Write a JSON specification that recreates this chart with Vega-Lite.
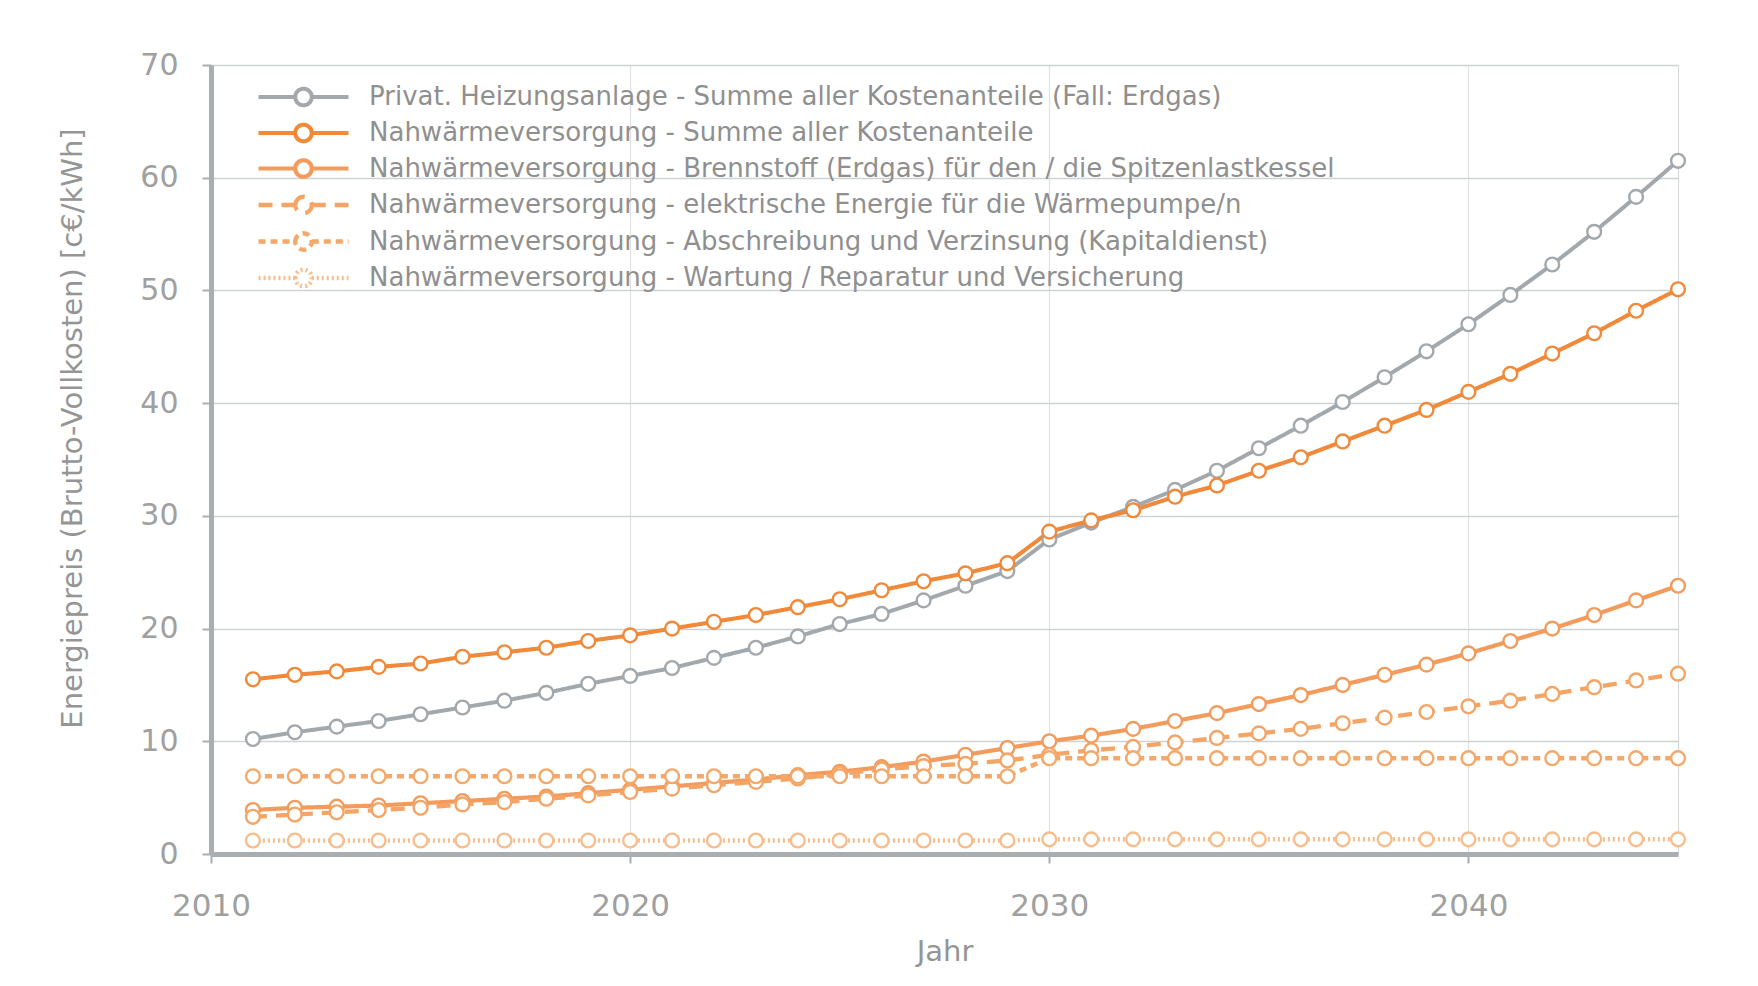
{
  "$schema": "https://vega.github.io/schema/vega-lite/v6.json",
  "width": 1467,
  "height": 789,
  "autosize": {"type": "none"},
  "padding": {"left": 211, "top": 65, "right": 80, "bottom": 132},
  "background": "white",
  "config": {
    "font": "DejaVu Sans",
    "view": {"stroke": "#d4d6d8", "strokeWidth": 1},
    "axis": {"labelColor": "#a0a0a0", "titleColor": "#959595", "labelFont": "DejaVu Sans", "titleFont": "DejaVu Sans", "titleFontWeight": "normal"},
    "legend": {"padding": 0}
  },
  "data": {"values": [
    {"Jahr": 2011, "s1": 10.2, "s2": 15.5, "s3": 3.9, "s4": 3.3, "s5": 6.9, "s6": 1.2},
    {"Jahr": 2012, "s1": 10.8, "s2": 15.9, "s3": 4.1, "s4": 3.5, "s5": 6.9, "s6": 1.2},
    {"Jahr": 2013, "s1": 11.3, "s2": 16.2, "s3": 4.2, "s4": 3.7, "s5": 6.9, "s6": 1.2},
    {"Jahr": 2014, "s1": 11.8, "s2": 16.6, "s3": 4.3, "s4": 3.9, "s5": 6.9, "s6": 1.2},
    {"Jahr": 2015, "s1": 12.4, "s2": 16.9, "s3": 4.5, "s4": 4.1, "s5": 6.9, "s6": 1.2},
    {"Jahr": 2016, "s1": 13.0, "s2": 17.5, "s3": 4.7, "s4": 4.4, "s5": 6.9, "s6": 1.2},
    {"Jahr": 2017, "s1": 13.6, "s2": 17.9, "s3": 4.9, "s4": 4.6, "s5": 6.9, "s6": 1.2},
    {"Jahr": 2018, "s1": 14.3, "s2": 18.3, "s3": 5.1, "s4": 4.9, "s5": 6.9, "s6": 1.2},
    {"Jahr": 2019, "s1": 15.1, "s2": 18.9, "s3": 5.4, "s4": 5.2, "s5": 6.9, "s6": 1.2},
    {"Jahr": 2020, "s1": 15.8, "s2": 19.4, "s3": 5.7, "s4": 5.5, "s5": 6.9, "s6": 1.2},
    {"Jahr": 2021, "s1": 16.5, "s2": 20.0, "s3": 6.0, "s4": 5.8, "s5": 6.9, "s6": 1.2},
    {"Jahr": 2022, "s1": 17.4, "s2": 20.6, "s3": 6.3, "s4": 6.1, "s5": 6.9, "s6": 1.2},
    {"Jahr": 2023, "s1": 18.3, "s2": 21.2, "s3": 6.6, "s4": 6.4, "s5": 6.9, "s6": 1.2},
    {"Jahr": 2024, "s1": 19.3, "s2": 21.9, "s3": 7.0, "s4": 6.7, "s5": 6.9, "s6": 1.2},
    {"Jahr": 2025, "s1": 20.4, "s2": 22.6, "s3": 7.3, "s4": 7.1, "s5": 6.9, "s6": 1.2},
    {"Jahr": 2026, "s1": 21.3, "s2": 23.4, "s3": 7.7, "s4": 7.5, "s5": 6.9, "s6": 1.2},
    {"Jahr": 2027, "s1": 22.5, "s2": 24.2, "s3": 8.2, "s4": 7.8, "s5": 6.9, "s6": 1.2},
    {"Jahr": 2028, "s1": 23.8, "s2": 24.9, "s3": 8.8, "s4": 8.0, "s5": 6.9, "s6": 1.2},
    {"Jahr": 2029, "s1": 25.1, "s2": 25.8, "s3": 9.4, "s4": 8.3, "s5": 6.9, "s6": 1.2},
    {"Jahr": 2030, "s1": 27.9, "s2": 28.6, "s3": 10.0, "s4": 8.8, "s5": 8.5, "s6": 1.3},
    {"Jahr": 2031, "s1": 29.4, "s2": 29.6, "s3": 10.5, "s4": 9.2, "s5": 8.5, "s6": 1.3},
    {"Jahr": 2032, "s1": 30.8, "s2": 30.5, "s3": 11.1, "s4": 9.5, "s5": 8.5, "s6": 1.3},
    {"Jahr": 2033, "s1": 32.3, "s2": 31.7, "s3": 11.8, "s4": 9.9, "s5": 8.5, "s6": 1.3},
    {"Jahr": 2034, "s1": 34.0, "s2": 32.7, "s3": 12.5, "s4": 10.3, "s5": 8.5, "s6": 1.3},
    {"Jahr": 2035, "s1": 36.0, "s2": 34.0, "s3": 13.3, "s4": 10.7, "s5": 8.5, "s6": 1.3},
    {"Jahr": 2036, "s1": 38.0, "s2": 35.2, "s3": 14.1, "s4": 11.1, "s5": 8.5, "s6": 1.3},
    {"Jahr": 2037, "s1": 40.1, "s2": 36.6, "s3": 15.0, "s4": 11.6, "s5": 8.5, "s6": 1.3},
    {"Jahr": 2038, "s1": 42.3, "s2": 38.0, "s3": 15.9, "s4": 12.1, "s5": 8.5, "s6": 1.3},
    {"Jahr": 2039, "s1": 44.6, "s2": 39.4, "s3": 16.8, "s4": 12.6, "s5": 8.5, "s6": 1.3},
    {"Jahr": 2040, "s1": 47.0, "s2": 41.0, "s3": 17.8, "s4": 13.1, "s5": 8.5, "s6": 1.3},
    {"Jahr": 2041, "s1": 49.6, "s2": 42.6, "s3": 18.9, "s4": 13.6, "s5": 8.5, "s6": 1.3},
    {"Jahr": 2042, "s1": 52.3, "s2": 44.4, "s3": 20.0, "s4": 14.2, "s5": 8.5, "s6": 1.3},
    {"Jahr": 2043, "s1": 55.2, "s2": 46.2, "s3": 21.2, "s4": 14.8, "s5": 8.5, "s6": 1.3},
    {"Jahr": 2044, "s1": 58.3, "s2": 48.2, "s3": 22.5, "s4": 15.4, "s5": 8.5, "s6": 1.3},
    {"Jahr": 2045, "s1": 61.5, "s2": 50.1, "s3": 23.8, "s4": 16.0, "s5": 8.5, "s6": 1.3}
  ]},
  "transform": [{"fold": ["s1", "s2", "s3", "s4", "s5", "s6"], "as": ["Serie", "Wert"]}],
  "encoding": {
    "x": {
      "field": "Jahr", "type": "quantitative",
      "scale": {"domain": [2010, 2045], "nice": false, "zero": false},
      "axis": {
        "title": "Jahr", "values": [2010, 2020, 2030, 2040], "format": "d", "labelFlush": false,
        "labelFontSize": 31, "titleFontSize": 29, "titlePadding": 16, "labelPadding": 28,
        "domainColor": "#a9aeb2", "domainWidth": 5, "tickColor": "#a9aeb2", "tickWidth": 2, "tickSize": 9,
        "gridColor": "#dfe1e3", "gridWidth": 1.2
      }
    },
    "y": {
      "field": "Wert", "type": "quantitative",
      "scale": {"domain": [0, 70], "nice": false},
      "axis": {
        "title": "Energiepreis (Brutto-Vollkosten) [c€/kWh]", "values": [0, 10, 20, 30, 40, 50, 60, 70],
        "labelFontSize": 30, "titleFontSize": 29, "labelPadding": 24,
        "titleX": -139, "titleY": 363, "titleAngle": -90, "titleBaseline": "middle", "titleAlign": "center",
        "domainColor": "#a9aeb2", "domainWidth": 5, "tickColor": "#a9aeb2", "tickWidth": 2, "tickSize": 9,
        "gridColor": "#cfd2d4", "gridWidth": 1.5
      }
    }
  },
  "layer": [
    {
      "mark": {"type": "line", "strokeCap": "butt"},
      "encoding": {
        "color": {
          "field": "Serie", "type": "nominal",
          "scale": {"domain": ["s1", "s2", "s3", "s4", "s5", "s6"], "range": ["#a2a8ac", "#f0893a", "#f39b5c", "#f4a566", "#f4a869", "#f7bd8c"]},
          "legend": {
            "title": null, "orient": "none", "legendX": 75, "legendY": 15,
            "symbolType": "M-3,0H-0.55M0.55,0H3M-0.55,0A0.55,0.55 0 1,1 0.55,0A0.55,0.55 0 1,1 -0.55,0",
            "symbolSize": 900, "symbolFillColor": "white", "labelFontSize": 26, "labelColor": "#8f8f8f",
            "labelFont": "DejaVu Sans", "rowPadding": 1.5, "labelOffset": 48, "labelLimit": 1400,
            "labelExpr": "datum.value == 's1' ? 'Privat. Heizungsanlage - Summe aller Kostenanteile (Fall: Erdgas)' : datum.value == 's2' ? 'Nahwärmeversorgung - Summe aller Kostenanteile' : datum.value == 's3' ? 'Nahwärmeversorgung - Brennstoff (Erdgas) für den / die Spitzenlastkessel' : datum.value == 's4' ? 'Nahwärmeversorgung - elektrische Energie für die Wärmepumpe/n' : datum.value == 's5' ? 'Nahwärmeversorgung - Abschreibung und Verzinsung (Kapitaldienst)' : 'Nahwärmeversorgung - Wartung / Reparatur und Versicherung'"
          }
        },
        "strokeDash": {
          "field": "Serie", "type": "nominal",
          "scale": {"domain": ["s1", "s2", "s3", "s4", "s5", "s6"], "range": [[1, 0], [1, 0], [1, 0], [14, 9], [7, 5], [2, 3]]},
          "legend": null
        },
        "strokeWidth": {
          "field": "Serie", "type": "nominal",
          "scale": {"domain": ["s1", "s2", "s3", "s4", "s5", "s6"], "range": [4, 4.5, 2, 1.8, 1.8, 1.4]},
          "legend": null
        }
      }
    },
    {
      "mark": {"type": "point", "shape": "circle", "filled": false, "fill": "white", "fillOpacity": 1, "size": 190, "strokeWidth": 2.4, "opacity": 1},
      "encoding": {
        "stroke": {
          "field": "Serie", "type": "nominal",
          "scale": {"domain": ["s1", "s2", "s3", "s4", "s5", "s6"], "range": ["#a2a8ac", "#f0893a", "#f39b5c", "#f4a566", "#f4a869", "#f7bd8c"]},
          "legend": null
        }
      }
    }
  ]
}
